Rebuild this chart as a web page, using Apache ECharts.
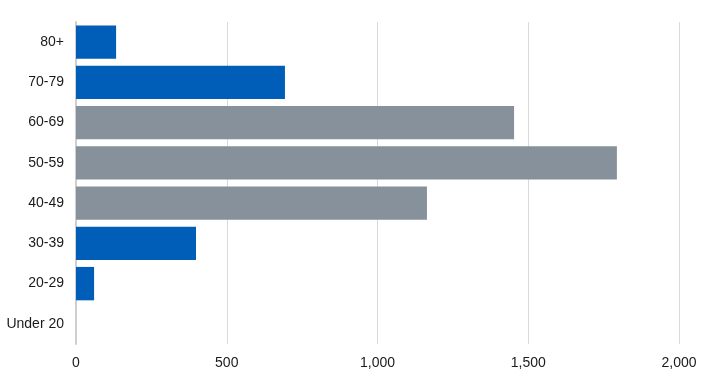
<!DOCTYPE html>
<html>
<head>
<meta charset="utf-8">
<script src="https://cdn.jsdelivr.net/npm/echarts@6/dist/echarts.min.js"></script>
<style>html,body{margin:0;padding:0;background:#fff;}#c{width:709px;height:383px;}</style>
</head>
<body>
<div id="c"></div>
<script>
var categories = ["Under 20", "20-29", "30-39", "40-49", "50-59", "60-69", "70-79", "80+"];
var blueValues = [0, 60, 398, null, null, null, 693, 133];
var grayValues = [null, null, null, 1164, 1794, 1453, null, null];
var xTicks = [0, 500, 1000, 1500, 2000];

var chart = echarts.init(document.getElementById('c'), null, {renderer: 'canvas'});
chart.setOption({
  animation: false,
  grid: {left: 76, right: 30, top: 22, bottom: 39, containLabel: false},
  xAxis: {
    type: 'value', min: xTicks[0], max: xTicks[xTicks.length - 1], interval: 500,
    axisLine: {show: false}, axisTick: {show: false},
    splitLine: {lineStyle: {color: '#d9d9d9', width: 1}},
    axisLabel: {color: '#1a1a1a', fontFamily: 'Liberation Sans', fontSize: 14, margin: 12,
      formatter: function (v) { return v.toLocaleString('en-US'); }}
  },
  yAxis: {
    type: 'category', data: categories,
    axisLine: {show: true, lineStyle: {color: '#cfcfcf', width: 2}},
    axisTick: {show: false},
    axisLabel: {color: '#1a1a1a', fontFamily: 'Liberation Sans', fontSize: 14, margin: 12}
  },
  series: [
    {name: 'blue', type: 'bar', stack: 'a', data: blueValues, barWidth: '83%',
     itemStyle: {color: '#005EB8'}},
    {name: 'gray', type: 'bar', stack: 'a', data: grayValues, barWidth: '83%',
     itemStyle: {color: '#86919B'}}
  ]
});
</script>
</body>
</html>
